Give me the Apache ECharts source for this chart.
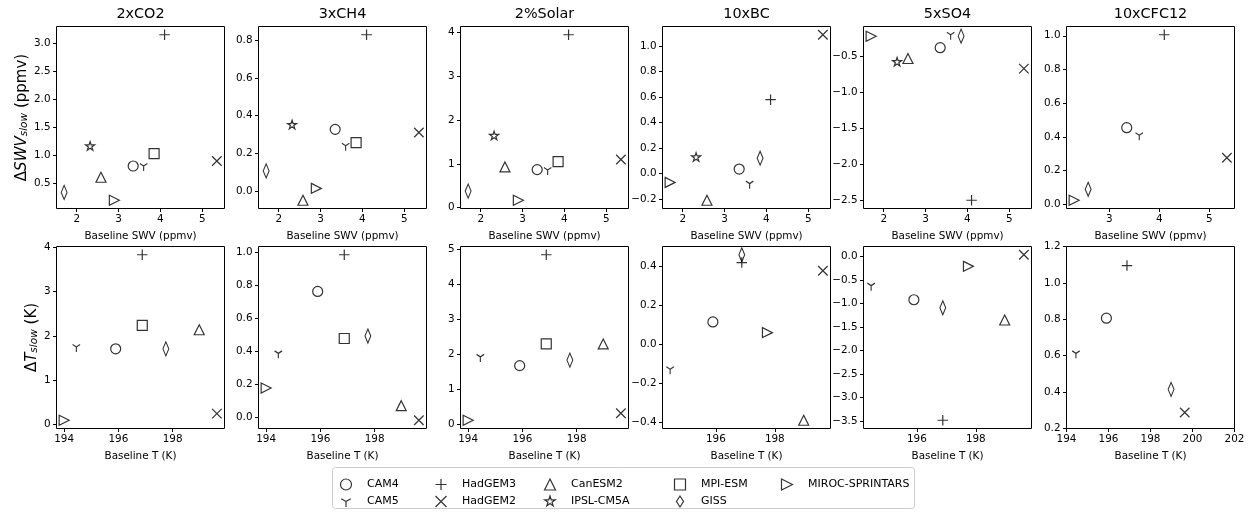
<!DOCTYPE html>
<html>
<head>
<meta charset="utf-8">
<script src="https://cdn.jsdelivr.net/npm/echarts@6/dist/echarts.min.js"></script>
<style>
html, body { margin: 0; padding: 0; background: #fff; }
#chart { width: 1249px; height: 512px; }
</style>
</head>
<body>
<div id="chart"></div>
<script>
const experiments = ["2xCO2", "3xCH4", "2%Solar", "10xBC", "5xSO4", "10xCFC12"];
const models = ["CAM4", "CAM5", "HadGEM3", "HadGEM2", "CanESM2", "IPSL-CM5A", "MPI-ESM", "GISS", "MIROC-SPRINTARS"];

// top row: baseline SWV (ppmv) vs dSWV slow, one row per experiment, models in order above
const swvX = [
    [3.35, 3.6, 4.1, 5.35, 2.58, 2.32, 3.85, 1.7, 2.9],
    [3.35, 3.6, 4.1, 5.35, 2.58, 2.32, 3.85, 1.7, 2.9],
    [3.35, 3.6, 4.1, 5.35, 2.58, 2.32, 3.85, 1.7, 2.9],
    [3.35, 3.6, 4.1, 5.35, 2.58, 2.32, null, 3.85, 1.7],
    [3.35, 3.6, 4.1, 5.35, 2.58, 2.32, null, 3.85, 1.7],
    [3.35, 3.6, 4.1, 5.35, null, null, null, 2.58, 2.3]
];
const swvY = [
    [0.81, 0.81, 3.15, 0.90, 0.61, 1.16, 1.03, 0.34, 0.20],
    [0.327, 0.24, 0.83, 0.31, -0.05, 0.35, 0.256, 0.106, 0.013],
    [0.87, 0.86, 3.95, 1.10, 0.93, 1.64, 1.05, 0.38, 0.17],
    [0.035, -0.08, 0.58, 1.09, -0.21, 0.127, null, 0.12, -0.07],
    [-0.38, -0.20, -2.50, -0.67, -0.53, -0.58, null, -0.22, -0.22],
    [0.455, 0.41, 1.006, 0.277, null, null, null, 0.09, 0.025]
];

// bottom row: baseline T (K) vs dT slow
const tX = [
    [195.9, 194.45, 196.88, 199.63, 198.98, null, 196.88, 197.75, 194.0],
    [195.9, 194.45, 196.88, 199.63, 198.98, null, 196.88, 197.75, 194.0],
    [195.9, 194.45, 196.88, 199.63, 198.98, null, 196.88, 197.75, 194.0],
    [195.9, 194.45, 196.88, 199.63, 198.98, null, null, 196.88, 197.75],
    [195.9, 194.45, 196.88, 199.63, 198.98, null, null, 196.88, 197.75],
    [195.9, 194.45, 196.88, 199.63, null, null, null, 198.98, null]
];
const tY = [
    [1.71, 1.75, 3.83, 0.25, 2.14, null, 2.24, 1.71, 0.10],
    [0.76, 0.385, 0.982, -0.02, 0.068, null, 0.475, 0.49, 0.175],
    [1.67, 1.92, 4.84, 0.31, 2.29, null, 2.29, 1.83, 0.11],
    [0.115, -0.128, 0.42, 0.378, -0.39, null, null, 0.46, 0.06],
    [-0.92, -0.62, -3.48, 0.036, -1.35, null, null, -1.09, -0.21],
    [0.806, 0.613, 1.095, 0.288, null, null, null, 0.415, null]
];

// tick values
const swvXTicks = [[2, 3, 4, 5], [2, 3, 4, 5], [2, 3, 4, 5], [2, 3, 4, 5], [2, 3, 4, 5], [3, 4, 5]];
const swvYTicks = [
    [0.5, 1.0, 1.5, 2.0, 2.5, 3.0],
    [0.0, 0.2, 0.4, 0.6, 0.8],
    [0, 1, 2, 3, 4],
    [-0.2, 0.0, 0.2, 0.4, 0.6, 0.8, 1.0],
    [-2.5, -2.0, -1.5, -1.0, -0.5],
    [0.0, 0.2, 0.4, 0.6, 0.8, 1.0]
];
const tXTicks = [[194, 196, 198], [194, 196, 198], [194, 196, 198], [196, 198], [196, 198], [194, 196, 198, 200, 202]];
const tYTicks = [
    [0, 1, 2, 3, 4],
    [0.0, 0.2, 0.4, 0.6, 0.8, 1.0],
    [0, 1, 2, 3, 4, 5],
    [-0.4, -0.2, 0.0, 0.2, 0.4],
    [-3.5, -3.0, -2.5, -2.0, -1.5, -1.0, -0.5, 0.0],
    [0.2, 0.4, 0.6, 0.8, 1.0, 1.2]
];
// the last bottom panel has fixed limits
const cfcTLimX = [194, 202];
const cfcTLimY = [0.2, 1.2];

const FONT = "'DejaVu Sans', sans-serif";

// hollow markers like matplotlib o 1 + x ^ * s d >
const markers = {
    "CAM4": ["circle", 10],
    "CAM5": ["path://M10,0M10,10L10,20M10,10L1.34,5M10,10L18.66,5", [8.7, 10]],
    "HadGEM3": ["path://M5,0L5,10M0,5L10,5", 10.5],
    "HadGEM2": ["path://M0,0L10,10M10,0L0,10", 9.5],
    "CanESM2": ["path://M5,0L10,10L0,10Z", 10],
    "IPSL-CM5A": ["path://M5,10M5,0L6.12,3.45L9.76,3.45L6.82,5.59L7.94,9.05L5,6.91L2.06,9.05L3.18,5.59L0.24,3.45L3.88,3.45Z", 9.5],
    "MPI-ESM": ["path://M0,0L10,0L10,10L0,10Z", 10],
    "GISS": ["path://M3.25,0L6.5,5L3.25,10L0,5Z", [9, 14]],
    "MIROC-SPRINTARS": ["path://M0,0L10,5L0,10Z", 10]
};

// matplotlib style limits: data range plus 5% each side
function padded(xs) {
    let v = xs.filter(a => a != null);
    let lo = Math.min(...v), hi = Math.max(...v), r = hi - lo;
    return [lo - 0.05 * r, hi + 0.05 * r];
}

function fmt(ticks) {
    let dec = ticks.some(t => !Number.isInteger(t)) ? 1 : 0;
    return v => v.toFixed(dec).replace("-", "\u2212");
}

const gridLeft = [56.5, 258.5, 460.5, 662.5, 863.5, 1066.5];
const rowTop = [26.5, 246.5];

let grids = [], xAxes = [], yAxes = [], series = [], titles = [];

function axis(gi, lim, ticks, extra) {
    return Object.assign({
        type: "value",
        gridIndex: gi,
        min: lim[0],
        max: lim[1],
        axisLine: { show: false, onZero: false },
        splitLine: { show: false },
        axisTick: { show: true, length: 3.5, customValues: ticks, lineStyle: { color: "#000", width: 1 } },
        axisLabel: { customValues: ticks, formatter: fmt(ticks), margin: 6, color: "#000", fontSize: 10.4, fontFamily: FONT }
    }, extra);
}

function addRow(row, xs, ys, xTicks, yTicks) {
    for (let e = 0; e < 6; e++) {
        let gi = row * 6 + e;
        grids.push({
            left: gridLeft[e], top: rowTop[row], width: 168, height: 182,
            show: true, borderColor: "#000", borderWidth: 1, backgroundColor: "transparent",
            containLabel: false, outerBoundsMode: "none"
        });
        let fixed = row === 1 && e === 5;
        xAxes.push(axis(gi, fixed ? cfcTLimX : padded(xs[e]), xTicks[e], {
            name: row === 0 ? "Baseline SWV (ppmv)" : "Baseline T (K)",
            nameLocation: "middle",
            nameGap: 23,
            nameTextStyle: { fontSize: 10.4, color: "#000", fontFamily: FONT }
        }));
        let yExtra = {};
        if (e === 0) {
            yExtra = {
                name: row === 0 ? "\u0394{i|SWV}{s|slow} (ppmv)" : "\u0394{i|T}{s|slow} (K)",
                nameLocation: "middle",
                nameRotate: 90,
                nameGap: row === 0 ? 27 : 16,
                nameTextStyle: {
                    fontSize: 15, color: "#000", fontFamily: FONT,
                    rich: {
                        i: { fontSize: 15, fontStyle: "italic", color: "#000", fontFamily: FONT },
                        s: { fontSize: 10.5, fontStyle: "italic", color: "#000", fontFamily: FONT, verticalAlign: "bottom" }
                    }
                }
            };
        }
        yAxes.push(axis(gi, fixed ? cfcTLimY : padded(ys[e]), yTicks[e], yExtra));

        models.forEach((m, k) => {
            if (xs[e][k] == null || ys[e][k] == null) return;
            series.push({
                type: "scatter",
                name: m,
                xAxisIndex: gi,
                yAxisIndex: gi,
                data: [[xs[e][k], ys[e][k]]],
                symbol: markers[m][0],
                symbolSize: markers[m][1],
                symbolKeepAspect: true,
                itemStyle: { color: "none", borderColor: "#000", borderWidth: 1.2 },
                silent: true
            });
        });
    }
}

addRow(0, swvX, swvY, swvXTicks, swvYTicks);
addRow(1, tX, tY, tXTicks, tYTicks);

experiments.forEach((name, e) => {
    titles.push({
        text: name,
        left: gridLeft[e] + 79,
        textAlign: "center",
        top: 2,
        textStyle: { fontSize: 14.4, fontWeight: "normal", color: "#000", fontFamily: FONT }
    });
});

// legend, matplotlib fills columns first
const legendCols = [["CAM4", "CAM5"], ["HadGEM3", "HadGEM2"], ["CanESM2", "IPSL-CM5A"], ["MPI-ESM", "GISS"], ["MIROC-SPRINTARS"]];
const legendMarkX = [346, 441, 550, 680, 787];

let legends = legendCols.map((names, c) => ({
    orient: "vertical",
    left: legendMarkX[c] - 8,
    top: 476.5,
    width: 200,
    height: 80,
    padding: 0,
    itemWidth: 32,
    itemHeight: 11,
    itemGap: 1,
    selectedMode: false,
    symbolKeepAspect: true,
    data: names,
    itemStyle: { color: "none", borderColor: "#000", borderWidth: 1.2 },
    textStyle: { fontSize: 11, color: "#000", fontFamily: FONT, lineHeight: 11 }
}));

let chart = echarts.init(document.getElementById("chart"), null, { renderer: "canvas" });
chart.setOption({
    animation: false,
    backgroundColor: "#fff",
    title: titles,
    grid: grids,
    xAxis: xAxes,
    yAxis: yAxes,
    legend: legends,
    graphic: [{
        type: "rect",
        z: -1,
        shape: { x: 332.5, y: 467.5, width: 582, height: 41, r: 3 },
        style: { fill: "#fff", stroke: "#ccc", lineWidth: 1 }
    }],
    series: series
});
</script>
</body>
</html>
